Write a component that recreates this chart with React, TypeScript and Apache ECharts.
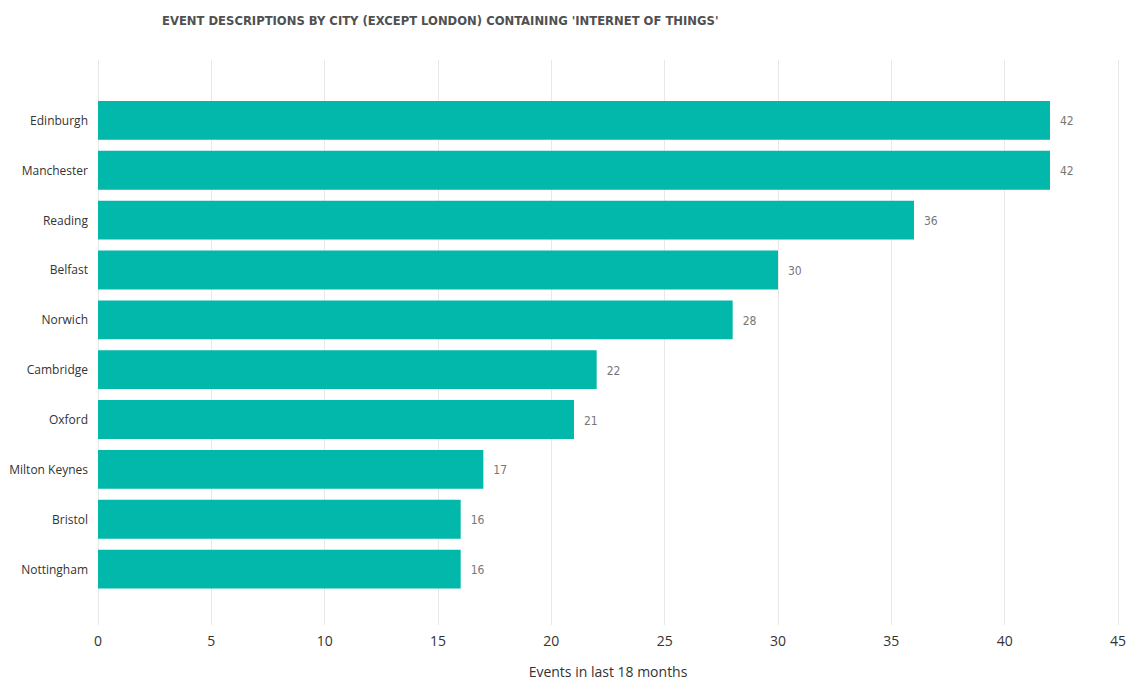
import React, { useEffect, useRef } from "react";
import * as echarts from "echarts";

const cities = ["Edinburgh", "Manchester", "Reading", "Belfast", "Norwich", "Cambridge", "Oxford", "Milton Keynes", "Bristol", "Nottingham"];
const events = [42, 42, 36, 30, 28, 22, 21, 17, 16, 16];
const titleText = "EVENT DESCRIPTIONS BY CITY (EXCEPT LONDON) CONTAINING 'INTERNET OF THINGS'";
const axisName = "Events in last 18 months";

export default function App() {
  const ref = useRef<HTMLDivElement>(null);
  useEffect(() => {
    const chart = echarts.init(ref.current!, null, { renderer: "svg" });
    chart.setOption({
      animation: false,
      backgroundColor: "#ffffff",
      title: {
        text: titleText,
        left: 157,
        top: 9,
        textStyle: {
          fontFamily: "DejaVu Sans Condensed",
          fontWeight: "bold",
          fontSize: 12.9,
          color: "#505050",
        },
      },
      grid: [
        { left: 98, right: 12, top: 60, bottom: 683 - 632, containLabel: false },
        { left: 98, right: 12, top: 95.5, bottom: 683 - 594, containLabel: false },
      ],
      xAxis: [
        {
          type: "value",
          gridIndex: 0,
          min: 0,
          max: 45,
          interval: 5,
          axisLine: { show: false },
          axisTick: { show: false },
          splitLine: { show: true, lineStyle: { color: "#e8e8e8", width: 1 } },
          axisLabel: { fontFamily: "Open Sans", fontSize: 14, color: "#333333", margin: 8 },
          name: axisName,
          nameLocation: "middle",
          nameGap: 39,
          nameTextStyle: { fontFamily: "Open Sans", fontSize: 14, color: "#333333" },
        },
        {
          type: "value",
          gridIndex: 1,
          min: 0,
          max: 45,
          interval: 5,
          show: false,
        },
      ],
      yAxis: [
        {
          type: "category",
          gridIndex: 0,
          data: [],
          show: false,
        },
        {
          type: "category",
          gridIndex: 1,
          data: cities,
          inverse: true,
          axisLine: { show: false },
          axisTick: { show: false },
          axisLabel: { fontFamily: "Open Sans", fontSize: 12, color: "#333333", margin: 10 },
        },
      ],
      series: [
        {
          type: "bar",
          xAxisIndex: 1,
          yAxisIndex: 1,
          data: events,
          barCategoryGap: "22%",
          itemStyle: { color: "#01B8AA" },
          label: {
            show: true,
            position: "right",
            distance: 10,
            offset: [0, 1],
            fontFamily: "DejaVu Sans Condensed",
            fontSize: 12,
            color: "#777777",
          },
        },
      ],
    });
    return () => chart.dispose();
  }, []);
  return <div ref={ref} style={{ position: "absolute", left: 0, top: 0, width: 1130, height: 683 }} />;
}
